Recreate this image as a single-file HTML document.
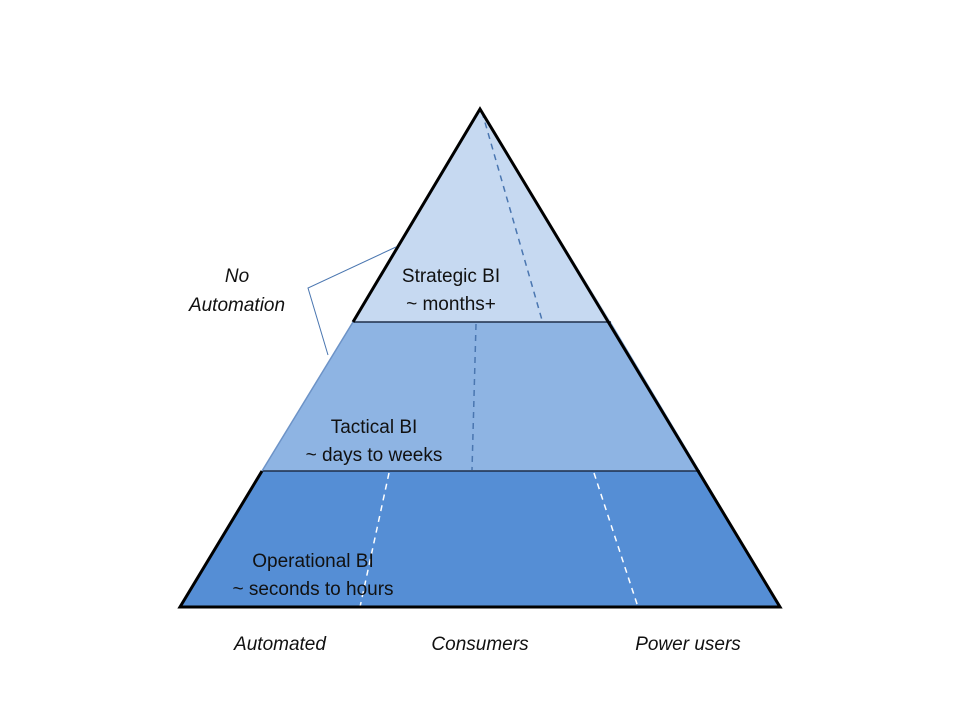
<!DOCTYPE html>
<html><head><style>
body{margin:0;background:#fff;}
svg{display:block;}
text{font-family:"Liberation Sans",sans-serif;font-size:19px;fill:#111;}
</style></head><body>
<svg width="960" height="720" viewBox="0 0 960 720">
<polygon points="480,109 353,322 611,322" fill="#c6d9f1"/>
<polygon points="353,322 611,322 700,471 262,471" fill="#8eb4e3"/>
<polygon points="262,471 700,471 780,607 180,607" fill="#558ed5"/>
<line x1="353" y1="322" x2="611" y2="322" stroke="#1f2f4a" stroke-width="1.5"/>
<line x1="262" y1="471" x2="700" y2="471" stroke="#1f2f4a" stroke-width="1.5"/>
<line x1="482" y1="112" x2="542" y2="320" stroke="#4a76b0" stroke-width="1.5" stroke-dasharray="6,5"/>
<line x1="476" y1="324" x2="472" y2="470" stroke="#4a76b0" stroke-width="1.5" stroke-dasharray="6,5"/>
<line x1="389" y1="473" x2="360" y2="607" stroke="#fff" stroke-width="1.5" stroke-dasharray="6,5"/>
<line x1="594" y1="473" x2="638" y2="607" stroke="#fff" stroke-width="1.5" stroke-dasharray="6,5"/>
<polyline points="353,322 480,109 780,607 180,607 262,471" fill="none" stroke="#000" stroke-width="3"/>
<line x1="262" y1="471" x2="353" y2="322" stroke="#6d93c7" stroke-width="1.5"/>
<polyline points="396,247 308,288 328,355" fill="none" stroke="#4a76b0" stroke-width="1"/>
<text x="451" y="282" text-anchor="middle">Strategic BI</text>
<text x="451" y="310" text-anchor="middle">~ months+</text>
<text x="374" y="433" text-anchor="middle">Tactical BI</text>
<text x="374" y="461" text-anchor="middle">~ days to weeks</text>
<text x="313" y="567" text-anchor="middle">Operational BI</text>
<text x="313" y="595" text-anchor="middle">~ seconds to hours</text>
<text x="237" y="282" text-anchor="middle" font-style="italic">No</text>
<text x="237" y="311" text-anchor="middle" font-style="italic">Automation</text>
<text x="280" y="650" text-anchor="middle" font-style="italic">Automated</text>
<text x="480" y="650" text-anchor="middle" font-style="italic">Consumers</text>
<text x="688" y="650" text-anchor="middle" font-style="italic">Power users</text>
</svg>
</body></html>
